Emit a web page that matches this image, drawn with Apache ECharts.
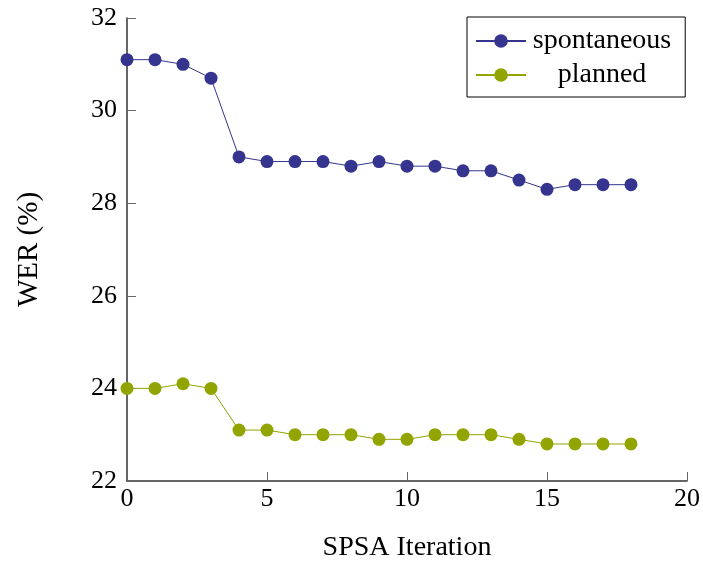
<!DOCTYPE html>
<html>
<head>
<meta charset="utf-8">
<script src="https://cdn.jsdelivr.net/npm/echarts@6/dist/echarts.min.js"></script>
<style>
  html, body { margin: 0; padding: 0; background: #fff; }
  #chart { width: 703px; height: 563px; }
</style>
</head>
<body>
<div id="chart"></div>
<script>
// WER per SPSA iteration for the two speaking styles
const iterations = [0, 1, 2, 3, 4, 5, 6, 7, 8, 9, 10, 11, 12, 13, 14, 15, 16, 17, 18];
const spontaneous = [31.1, 31.1, 31.0, 30.7, 29.0, 28.9, 28.9, 28.9, 28.8, 28.9, 28.8, 28.8, 28.7, 28.7, 28.5, 28.3, 28.4, 28.4, 28.4];
const planned = [24.0, 24.0, 24.1, 24.0, 23.1, 23.1, 23.0, 23.0, 23.0, 22.9, 22.9, 23.0, 23.0, 23.0, 22.9, 22.8, 22.8, 22.8, 22.8];
const seriesNames = ['spontaneous', 'planned'];

const font = '"Liberation Serif", "DejaVu Serif", serif';
const navy = '#35358f';
const olive = '#92a400';

const pairs = (ys) => iterations.map((x, i) => [x, ys[i]]);

const chart = echarts.init(document.getElementById('chart'));
chart.setOption({
  animation: false,
  backgroundColor: '#fff',
  grid: { left: 127, right: 16, top: 18, bottom: 82, containLabel: false, outerBoundsMode: 'none' },
  xAxis: {
    type: 'value', min: 0, max: 20, interval: 5,
    name: 'SPSA Iteration', nameLocation: 'middle', nameGap: 53,
    nameTextStyle: { fontFamily: font, fontSize: 28, color: '#000' },
    axisLine: { lineStyle: { color: '#333', width: 1.5 } },
    axisTick: { inside: true, length: 9, lineStyle: { color: '#666' } },
    axisLabel: { fontFamily: font, fontSize: 26, color: '#000', margin: 5 },
    splitLine: { show: false }
  },
  yAxis: {
    type: 'value', min: 22, max: 32, interval: 2,
    name: 'WER (%)', nameLocation: 'middle', nameGap: 83, nameRotate: 90,
    nameTextStyle: { fontFamily: font, fontSize: 29, color: '#000' },
    axisLine: { show: true, lineStyle: { color: '#333', width: 1.5 } },
    axisTick: { show: true, inside: true, length: 9, lineStyle: { color: '#666' } },
    axisLabel: { fontFamily: font, fontSize: 26, color: '#000', margin: 10 },
    splitLine: { show: false }
  },
  legend: {
    left: 467, top: 17,
    orient: 'vertical',
    data: seriesNames,
    backgroundColor: '#fff',
    borderColor: '#000', borderWidth: 1,
    padding: [10, 14, 8, 8],
    itemGap: 6,
    itemWidth: 50, itemHeight: 17,
    formatter: '{c|{name}}',
    textStyle: {
      fontFamily: font, fontSize: 28, color: '#000',
      rich: {
        c: { fontFamily: font, fontSize: 28, color: '#000', width: 142, align: 'center' }
      }
    }
  },
  series: [
    {
      name: seriesNames[0], type: 'line', data: pairs(spontaneous),
      symbol: 'circle', symbolSize: 13,
      itemStyle: { color: navy },
      lineStyle: { color: navy, width: 1 }
    },
    {
      name: seriesNames[1], type: 'line', data: pairs(planned),
      symbol: 'circle', symbolSize: 13,
      itemStyle: { color: olive },
      lineStyle: { color: olive, width: 1 }
    }
  ]
});
</script>
</body>
</html>
